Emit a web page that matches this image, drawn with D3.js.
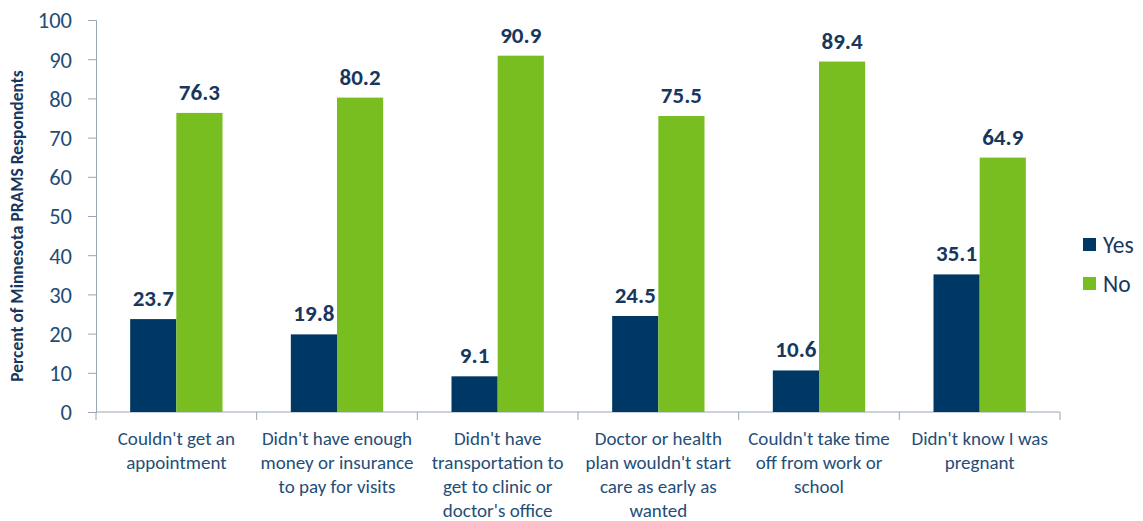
<!DOCTYPE html>
<html>
<head>
<meta charset="utf-8">
<script src="https://cdn.jsdelivr.net/npm/d3@7"></script>
<style>
  body { margin: 0; background: #fff; }
  text { font-family: Carlito, Lato, "Open Sans", sans-serif; }
  .tick-label { font-size: 22.5px; fill: #1f4e79; }
  .cat-label { font-size: 19px; fill: #1f4e79; }
  .value-label { font-size: 23px; font-weight: bold; fill: #17375e; }
  .axis-title { font-size: 17.5px; font-weight: bold; fill: #17375e; }
  .legend-label { font-size: 23.5px; fill: #17375e; }
</style>
</head>
<body>
<div id="wrapper"></div>
<script>
const categories = [
  ["Couldn't get an", "appointment"],
  ["Didn't have enough", "money or insurance", "to pay for visits"],
  ["Didn't have", "transportation to", "get to clinic or", "doctor's office"],
  ["Doctor or health", "plan wouldn't start", "care as early as", "wanted"],
  ["Couldn't take time", "off from work or", "school"],
  ["Didn't know I was", "pregnant"]
];
const seriesNames = ["Yes", "No"];
const yesValues = [23.7, 19.8, 9.1, 24.5, 10.6, 35.1];
const noValues = [76.3, 80.2, 90.9, 75.5, 89.4, 64.9];
const yTicks = [0, 10, 20, 30, 40, 50, 60, 70, 80, 90, 100];
const colors = ["#003865", "#78be21"];

function drawChart() {
  const dimensions = {
    width: 1143,
    height: 521,
    margin: { top: 20, right: 83, bottom: 109, left: 96 },
  };
  dimensions.boundedWidth = dimensions.width - dimensions.margin.left - dimensions.margin.right;
  dimensions.boundedHeight = dimensions.height - dimensions.margin.top - dimensions.margin.bottom;

  const svg = d3.select("#wrapper").append("svg")
    .attr("width", dimensions.width)
    .attr("height", dimensions.height);

  const bounds = svg.append("g")
    .attr("transform", `translate(${dimensions.margin.left},${dimensions.margin.top})`);

  const xScale = d3.scaleBand()
    .domain(d3.range(categories.length))
    .range([0, dimensions.boundedWidth]);

  const innerScale = d3.scaleBand()
    .domain(seriesNames)
    .range([0, xScale.bandwidth()])
    .paddingInner(0)
    .paddingOuter(0.74);

  const yScale = d3.scaleLinear()
    .domain([0, 100])
    .range([dimensions.boundedHeight, 0]);

  // y axis
  const yAxis = bounds.append("g")
    .call(d3.axisLeft(yScale).tickValues(yTicks).tickSize(8).tickPadding(16));
  yAxis.selectAll("path, line").attr("stroke", "#98a6b5");
  yAxis.selectAll("text").attr("class", "tick-label").attr("font-family", null).attr("font-size", null).attr("fill", null).attr("dy", "0.35em");

  // x axis line + boundary ticks
  const xAxis = bounds.append("g")
    .attr("transform", `translate(0,${dimensions.boundedHeight})`);
  xAxis.append("line")
    .attr("x1", 0).attr("x2", dimensions.boundedWidth)
    .attr("stroke", "#98a6b5");
  xAxis.selectAll(".bound-tick")
    .data(d3.range(categories.length + 1))
    .join("line")
      .attr("x1", i => i < categories.length ? xScale(i) : dimensions.boundedWidth)
      .attr("x2", i => i < categories.length ? xScale(i) : dimensions.boundedWidth)
      .attr("y1", 0).attr("y2", 8)
      .attr("stroke", "#98a6b5");

  const catLabels = xAxis.selectAll(".cat-label")
    .data(categories)
    .join("text")
      .attr("class", "cat-label")
      .attr("text-anchor", "middle")
      .attr("transform", (d, i) => `translate(${xScale(i) + xScale.bandwidth() / 2},33)`);
  catLabels.selectAll("tspan")
    .data(d => d)
    .join("tspan")
      .attr("x", 0)
      .attr("y", (d, i) => i * 24)
      .text(d => d);

  // bars
  const groups = bounds.selectAll(".group")
    .data(categories.map((c, i) => [
      { key: "Yes", value: yesValues[i] },
      { key: "No", value: noValues[i] },
    ]))
    .join("g")
      .attr("transform", (d, i) => `translate(${xScale(i)},0)`);

  groups.selectAll("rect")
    .data(d => d)
    .join("rect")
      .attr("x", d => innerScale(d.key))
      .attr("width", innerScale.bandwidth())
      .attr("y", d => yScale(d.value))
      .attr("height", d => dimensions.boundedHeight - yScale(d.value))
      .attr("fill", d => colors[seriesNames.indexOf(d.key)]);

  groups.selectAll(".value-label")
    .data(d => d)
    .join("text")
      .attr("class", "value-label")
      .attr("text-anchor", "middle")
      .attr("x", d => innerScale(d.key) + innerScale.bandwidth() / 2)
      .attr("y", d => yScale(d.value) - 13)
      .text(d => d3.format(".1f")(d.value));

  // axis title
  svg.append("text")
    .attr("class", "axis-title")
    .attr("text-anchor", "middle")
    .attr("transform", `translate(23,${dimensions.margin.top + dimensions.boundedHeight / 2 + 10}) rotate(-90)`)
    .text("Percent of Minnesota PRAMS Respondents");

  // legend
  const legend = svg.append("g")
    .attr("transform", "translate(1083,238)");
  const legendItems = legend.selectAll("g")
    .data(seriesNames)
    .join("g")
      .attr("transform", (d, i) => `translate(0,${i * 39})`);
  legendItems.append("rect")
    .attr("width", 13).attr("height", 13)
    .attr("fill", (d, i) => colors[i]);
  legendItems.append("text")
    .attr("class", "legend-label")
    .attr("x", 20)
    .attr("y", 7)
    .attr("dy", "0.35em")
    .text(d => d);
}
drawChart();
</script>
</body>
</html>
